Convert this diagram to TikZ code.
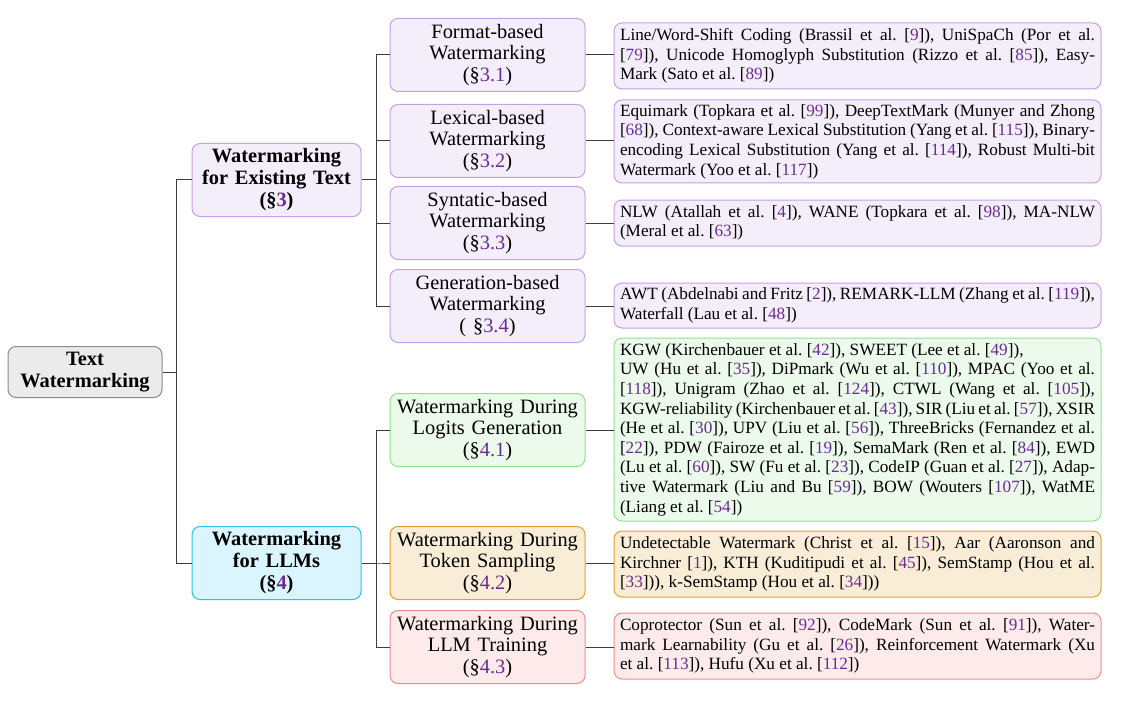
\documentclass[tikz,border=0pt]{standalone}
\usepackage{fontspec}
\setmainfont{Liberation Serif}
\usetikzlibrary{positioning}
\frenchspacing

\definecolor{citepurple}{RGB}{106,44,145}
\definecolor{rootfill}{RGB}{235,235,235}
\definecolor{rootdraw}{RGB}{140,140,140}
\definecolor{purfill}{RGB}{244,238,251}
\definecolor{purdraw}{RGB}{196,160,232}
\definecolor{cyanfill}{RGB}{218,245,253}
\definecolor{cyandraw}{RGB}{45,192,235}
\definecolor{grnfill}{RGB}{236,250,236}
\definecolor{grndraw}{RGB}{145,225,145}
\definecolor{orgfill}{RGB}{250,237,215}
\definecolor{orgdraw}{RGB}{225,160,45}
\definecolor{redfill}{RGB}{253,235,235}
\definecolor{reddraw}{RGB}{240,140,140}
\definecolor{edgegray}{RGB}{60,60,60}

\newcommand{\citeno}[1]{[\textcolor{citepurple}{#1}]}
\newcommand{\secno}[1]{(\S\textcolor{citepurple}{#1})}

\tikzset{
  box/.style={draw, rounded corners=4pt, line width=0.5pt, align=center,
    inner xsep=3pt, inner ysep=0pt},
  rootbox/.style={box, fill=rootfill, draw=rootdraw, text width=71pt,
    minimum height=25.5pt, font=\fontsize{10.2}{11}\selectfont\bfseries},
  secbox/.style={box, text width=78.5pt, minimum height=36.5pt,
    font=\fontsize{10.2}{11}\selectfont\bfseries},
  subbox/.style={box, text width=91.5pt, minimum height=36.5pt,
    font=\fontsize{10.2}{10.8}\selectfont},
  leafbox/.style={box, text width=237.5pt, align=justify,
    font=\fontsize{8.6}{9.8}\selectfont},
  grpexist/.style={fill=purfill, draw=purdraw},
  grpllm/.style={fill=cyanfill, draw=cyandraw},
  grplogit/.style={fill=grnfill, draw=grndraw},
  grpsample/.style={fill=orgfill, draw=orgdraw},
  grptrain/.style={fill=redfill, draw=reddraw},
  edge/.style={draw=edgegray, line width=0.5pt}
}

\begin{document}
\begin{tikzpicture}[x=0.5pt,y=-0.5pt]
  \def\xroot{85}
  \def\xsec{276.5}
  \def\xsub{487.5}
  \def\xleaf{857.5}
  \useasboundingbox (0,0) rectangle (1122,700);

  % root and first level
  \node[rootbox] (root) at (\xroot,372) {Text\\Watermarking};
  \node[secbox, grpexist] (exist) at (\xsec,180) {Watermarking\\for Existing Text\\\secno{3}};
  \node[secbox, grpllm] (llm) at (\xsec,563) {Watermarking\\for LLMs\\\secno{4}};

  % second level
  \node[subbox, grpexist] (fmt) at (\xsub,55) {Format-based\\Watermarking\\\secno{3.1}};
  \node[subbox, grpexist] (lex) at (\xsub,141) {Lexical-based\\Watermarking\\\secno{3.2}};
  \node[subbox, grpexist] (syn) at (\xsub,223) {Syntatic-based\\Watermarking\\\secno{3.3}};
  \node[subbox, grpexist] (gen) at (\xsub,306) {Generation-based\\Watermarking\\( \S\textcolor{citepurple}{3.4})};
  \node[subbox, grplogit] (logit) at (\xsub,430) {Watermarking During\\Logits Generation\\\secno{4.1}};
  \node[subbox, grpsample] (sample) at (\xsub,563) {Watermarking During\\Token Sampling\\\secno{4.2}};
  \node[subbox, grptrain] (train) at (\xsub,647) {Watermarking During\\LLM Training\\\secno{4.3}};

  % leaves
  \node[leafbox, grpexist, minimum height=33pt] (fmtl) at (\xleaf,56) {Line/Word-Shift Coding (Brassil et al. \citeno{9}), UniSpaCh (Por et al.\linebreak \citeno{79}), Unicode Homoglyph Substitution (Rizzo et al. \citeno{85}), Easy-\linebreak Mark (Sato et al. \citeno{89})};
  \node[leafbox, grpexist, minimum height=41.5pt] (lexl) at (\xleaf,141.5) {Equimark (Topkara et al. \citeno{99}), DeepTextMark (Munyer and Zhong\linebreak \citeno{68}), Context-aware Lexical Substitution (Yang et al. \citeno{115}), Binary-\linebreak encoding Lexical Substitution (Yang et al. \citeno{114}), Robust Multi-bit\linebreak Watermark (Yoo et al. \citeno{117})};
  \node[leafbox, grpexist, minimum height=23pt] (synl) at (\xleaf,223) {NLW (Atallah et al. \citeno{4}), WANE (Topkara et al. \citeno{98}), MA-NLW\linebreak (Meral et al. \citeno{63})};
  \node[leafbox, grpexist, minimum height=22.5pt] (genl) at (\xleaf,305.5) {AWT (Abdelnabi and Fritz \citeno{2}), REMARK-LLM (Zhang et al. \citeno{119}),\linebreak Waterfall (Lau et al. \citeno{48})};
  \node[leafbox, grplogit, minimum height=91.5pt] (logitl) at (\xleaf,429.5) {KGW (Kirchenbauer et al. \citeno{42}), SWEET (Lee et al. \citeno{49}),\\UW (Hu et al. \citeno{35}), DiPmark (Wu et al. \citeno{110}), MPAC (Yoo et al.\linebreak \citeno{118}), Unigram (Zhao et al. \citeno{124}), CTWL (Wang et al. \citeno{105}),\linebreak KGW-reliability (Kirchenbauer et al. \citeno{43}), SIR (Liu et al. \citeno{57}), XSIR\linebreak (He et al. \citeno{30}), UPV (Liu et al. \citeno{56}), ThreeBricks (Fernandez et al.\linebreak \citeno{22}), PDW (Fairoze et al. \citeno{19}), SemaMark (Ren et al. \citeno{84}), EWD\linebreak (Lu et al. \citeno{60}), SW (Fu et al. \citeno{23}), CodeIP (Guan et al. \citeno{27}), Adap-\linebreak tive Watermark (Liu and Bu \citeno{59}), BOW (Wouters \citeno{107}), WatME\linebreak (Liang et al. \citeno{54})};
  \node[leafbox, grpsample, minimum height=33pt] (samplel) at (\xleaf,564) {Undetectable Watermark (Christ et al. \citeno{15}), Aar (Aaronson and\linebreak Kirchner \citeno{1}), KTH (Kuditipudi et al. \citeno{45}), SemStamp (Hou et al.\linebreak \citeno{33})), k-SemStamp (Hou et al. \citeno{34}))};
  \node[leafbox, grptrain, minimum height=33pt] (trainl) at (\xleaf,646) {Coprotector (Sun et al. \citeno{92}), CodeMark (Sun et al. \citeno{91}), Water-\linebreak mark Learnability (Gu et al. \citeno{26}), Reinforcement Watermark (Xu\linebreak et al. \citeno{113}), Hufu (Xu et al. \citeno{112})};

  % connectors
  \foreach \n in {exist,llm}
    \draw[edge] (root.east) -- ++(14,0) |- (\n.west);
  \foreach \n in {fmt,lex,syn,gen}
    \draw[edge] (exist.east) -- ++(15,0) |- (\n.west);
  \foreach \n in {logit,sample,train}
    \draw[edge] (llm.east) -- ++(15,0) |- (\n.west);
  \foreach \n in {fmt,lex,syn,gen,logit,sample,train}
    \draw[edge] (\n.east) -- (\n.east -| \n l.west);
\end{tikzpicture}
\end{document}
